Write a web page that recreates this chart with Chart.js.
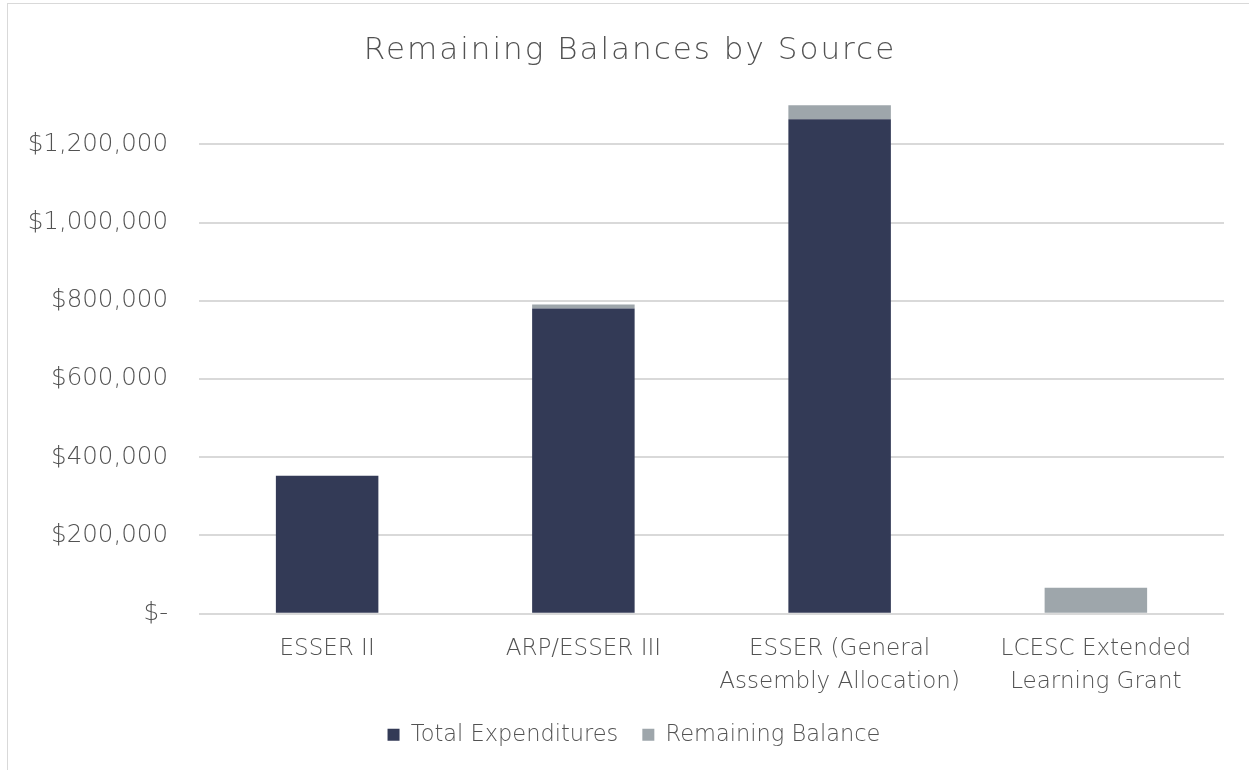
<!DOCTYPE html>
<html>
<head>
<meta charset="utf-8">
<script src="https://cdn.jsdelivr.net/npm/chart.js@4.4.0/dist/chart.umd.min.js"></script>
<style>
    html, body { margin: 0; padding: 0; background: #fff; }
    .wrap { position: relative; width: 1249px; height: 770px; overflow: hidden; }
    .frame { position: absolute; left: 7px; top: 3px; width: 1300px; height: 800px; border: 1px solid #d9d9d9; box-sizing: border-box; }
    .wrap canvas { position: absolute; left: 0; top: 0; }
</style>
</head>
<body>
<div class="wrap">
    <div class="frame"></div>
    <canvas id="chartBalances"></canvas>
</div>
<script>
// Dados do gráfico
const categories = [
    'ESSER II',
    'ARP/ESSER III',
    ['ESSER (General', 'Assembly Allocation)'],
    ['LCESC Extended', 'Learning Grant']
];
const totalExpenditures = [353000, 780000, 1264000, 0];
const remainingBalance = [0, 10500, 36500, 66500];
const yTicks = [0, 200000, 400000, 600000, 800000, 1000000, 1200000];

const FONT = '"DejaVu Sans", sans-serif';
const TEXT = '#525252';

// Formato contábil em dólar
function usd(v) {
    if (v === 0) return '$-';
    return '$' + Number(v).toLocaleString('en-US');
}

// Desloca título e legenda (centro do quadro do Excel) e espaça o título
function shiftBlock(chart, block, dx, spacing) {
    if (!block) return;
    const orig = block.draw;
    block.draw = function () {
        const ctx = chart.ctx;
        ctx.save();
        ctx.translate(dx, 0);
        ctx.letterSpacing = spacing;
        orig.apply(this, arguments);
        ctx.letterSpacing = '0px';
        ctx.restore();
    };
}

const blockShift = {
    id: 'blockShift',
    afterInit(chart) {
        shiftBlock(chart, chart.titleBlock, 18, '2px');
        shiftBlock(chart, chart.legend, 22, '0px');
    }
};

document.addEventListener('DOMContentLoaded', function () {
    const el = document.getElementById('chartBalances');
    new Chart(el.getContext('2d'), {
        type: 'bar',
        data: {
            labels: categories,
            datasets: [{
                label: 'Total Expenditures',
                data: totalExpenditures,
                backgroundColor: '#333a56',
                borderWidth: 0
            }, {
                label: 'Remaining Balance',
                data: remainingBalance,
                backgroundColor: '#9ea6ab',
                borderWidth: 0
            }]
        },
        plugins: [blockShift],
        options: {
            responsive: true,
            maintainAspectRatio: false,
            animation: false,
            datasets: { bar: { categoryPercentage: 1, barPercentage: 0.4 } },
            layout: { padding: { left: 0, right: 25, top: 0, bottom: 14 } },
            plugins: {
                title: {
                    display: true,
                    text: 'Remaining Balances by Source',
                    color: TEXT,
                    font: { family: FONT, size: 31, weight: '300', lineHeight: 1.2 },
                    padding: { top: 32, bottom: 36 }
                },
                legend: {
                    position: 'bottom',
                    labels: {
                        color: TEXT,
                        font: { family: FONT, size: 22.5, weight: '300' },
                        boxWidth: 12,
                        boxHeight: 12,
                        padding: 24
                    }
                },
                tooltip: { enabled: false }
            },
            scales: {
                x: {
                    stacked: true,
                    grid: { display: false, drawTicks: false },
                    border: { display: false },
                    afterFit: axis => { axis.height -= 18; },
                    ticks: {
                        color: TEXT,
                        padding: 19,
                        maxRotation: 0,
                        autoSkip: false,
                        font: { family: FONT, size: 23, weight: '300', lineHeight: 1.43 }
                    }
                },
                y: {
                    stacked: true,
                    min: 0,
                    max: 1300000,
                    grid: { color: '#d9d9d9', lineWidth: 2, drawTicks: false },
                    border: { display: false },
                    afterFit: axis => { axis.width = 199; },
                    afterBuildTicks: axis => {
                        axis.ticks = yTicks.map(v => ({ value: v }));
                    },
                    ticks: {
                        color: TEXT,
                        padding: 31,
                        font: { family: FONT, size: 24.5, weight: '300' },
                        callback: value => usd(value)
                    }
                }
            }
        }
    });
});
</script>
</body>
</html>
